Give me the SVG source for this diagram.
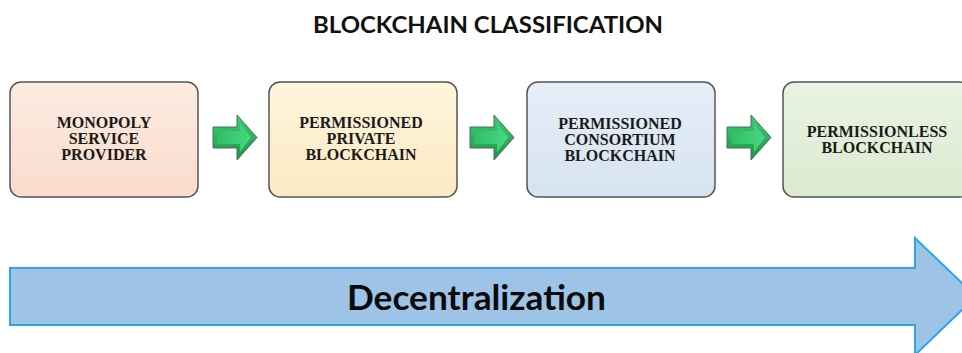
<svg xmlns="http://www.w3.org/2000/svg" width="962" height="353" viewBox="0 0 962 353">
  <defs>
    <style>
      .title { font-family: Lato, "Open Sans", "Liberation Sans", sans-serif; font-weight: 700; font-size: 23px; fill: #111; }
      .box { stroke: #555; stroke-width: 1.5; }
      .lbl { font-family: "Liberation Serif", "DejaVu Serif", serif; font-weight: 700; font-size: 16px; fill: #1a1a1a; text-anchor: middle; }
      .band { fill: #9dc3e6; stroke: #2ea7e0; stroke-width: 2; }
      .band-text { font-family: Lato, "Open Sans", "Liberation Sans", sans-serif; font-weight: 700; font-size: 34px; fill: #0a0a0a; }
      .step-out { fill: url(#greenEdge); stroke: #4e6e5c; stroke-width: 1; }
      .step-in { fill: url(#greenFace); }
    </style>
    <linearGradient id="peach" x1="0" y1="0" x2="0" y2="1">
      <stop offset="0" stop-color="#fdebe1"/>
      <stop offset="1" stop-color="#f8dccc"/>
    </linearGradient>
    <linearGradient id="cream" x1="0" y1="0" x2="0" y2="1">
      <stop offset="0" stop-color="#fef5dd"/>
      <stop offset="1" stop-color="#fbeac3"/>
    </linearGradient>
    <linearGradient id="ice" x1="0" y1="0" x2="0" y2="1">
      <stop offset="0" stop-color="#e6eef7"/>
      <stop offset="1" stop-color="#d6e3f1"/>
    </linearGradient>
    <linearGradient id="mint" x1="0" y1="0" x2="0" y2="1">
      <stop offset="0" stop-color="#e9f3e2"/>
      <stop offset="1" stop-color="#dcead0"/>
    </linearGradient>
    <linearGradient id="greenEdge" x1="0" y1="0" x2="0" y2="1">
      <stop offset="0" stop-color="#3fcf78"/>
      <stop offset="1" stop-color="#1f9148"/>
    </linearGradient>
    <linearGradient id="greenFace" x1="0" y1="0" x2="1" y2="0">
      <stop offset="0" stop-color="#2fbf63"/>
      <stop offset="1" stop-color="#47d884"/>
    </linearGradient>
    <!-- green step arrow, drawn at origin: 44 wide, 45 tall -->
    <g id="step">
      <polygon class="step-out" points="0,12 24,12 24,0 44,22.5 24,45 24,33 0,33"/>
      <polygon class="step-in" points="4,16 27,16 27,8 38,22.5 27,37 27,29 4,29"/>
    </g>
  </defs>

  <rect width="962" height="353" fill="#ffffff"/>

  <text class="title" x="313" y="33" textLength="350" lengthAdjust="spacingAndGlyphs">BLOCKCHAIN CLASSIFICATION</text>

  <g id="monopoly">
    <rect class="box" x="10" y="82" width="188" height="115" rx="11" fill="url(#peach)"/>
    <text class="lbl" x="104" y="128">MONOPOLY</text>
    <text class="lbl" x="104" y="144">SERVICE</text>
    <text class="lbl" x="104" y="160">PROVIDER</text>
  </g>

  <g id="private">
    <rect class="box" x="269" y="82" width="188" height="115" rx="11" fill="url(#cream)"/>
    <text class="lbl" x="361" y="128">PERMISSIONED</text>
    <text class="lbl" x="361" y="144">PRIVATE</text>
    <text class="lbl" x="361" y="160">BLOCKCHAIN</text>
  </g>

  <g id="consortium">
    <rect class="box" x="527" y="82" width="188" height="115" rx="11" fill="url(#ice)"/>
    <text class="lbl" x="620" y="129">PERMISSIONED</text>
    <text class="lbl" x="620" y="145">CONSORTIUM</text>
    <text class="lbl" x="620" y="161">BLOCKCHAIN</text>
  </g>

  <g id="permissionless">
    <rect class="box" x="783" y="82" width="188" height="115" rx="11" fill="url(#mint)"/>
    <text class="lbl" x="877" y="137">PERMISSIONLESS</text>
    <text class="lbl" x="877" y="153">BLOCKCHAIN</text>
  </g>

  <g id="connectors">
    <use href="#step" x="213" y="115"/>
    <use href="#step" x="470" y="115"/>
    <use href="#step" x="727" y="115"/>
  </g>

  <g id="decentralization">
    <polygon class="band" points="10,268 915,268 915,238 976,296.5 915,355 915,325 10,325"/>
    <text class="band-text" x="347" y="310" textLength="259" lengthAdjust="spacingAndGlyphs">Decentralization</text>
  </g>
</svg>
